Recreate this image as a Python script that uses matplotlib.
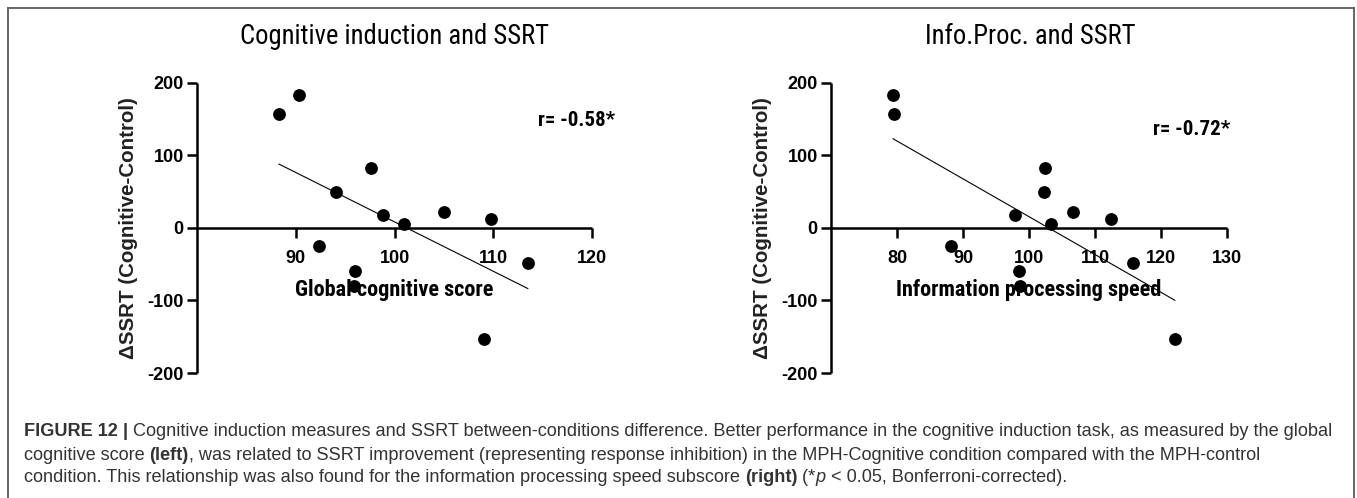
import numpy as np
import matplotlib
matplotlib.use("Agg")
import matplotlib.pyplot as plt
from matplotlib import font_manager
from matplotlib.lines import Line2D

# ---- data -------------------------------------------------------------
global_score = [88.3, 90.3, 92.4, 94.1, 96.0, 95.9, 97.6, 98.8, 101.0, 105.0, 109.8, 109.1, 113.5]
info_speed = [79.6, 79.4, 88.2, 102.2, 98.5, 98.6, 102.4, 97.9, 103.3, 106.7, 112.4, 122.1, 115.8]
delta_ssrt = [157, 184, -25, 50, -60, -80, 83, 18.5, 5, 22, 12.5, -153, -48]

left_xticks = [90, 100, 110, 120]
right_xticks = [80, 90, 100, 110, 120, 130]
yticks = [-200, -100, 0, 100, 200]

titles = ["Cognitive induction and SSRT", "Info.Proc. and SSRT"]
xlabels = ["Global cognitive score", "Information processing speed"]
r_labels = ["r= -0.58*", "r= -0.72*"]

plt.rcParams["axes.unicode_minus"] = False

# ---- fonts ------------------------------------------------------------
installed = {f.name for f in font_manager.fontManager.ttflist}
def pick(*names):
    for n in names:
        if n in installed:
            return n
    return "DejaVu Sans"

NARROW = pick("Liberation Sans Narrow", "Roboto Condensed", "Open Sans Condensed", "Liberation Sans")
SANS = pick("Liberation Sans", "Arial", "DejaVu Sans")

W, H, DPI = 1357, 498, 100
fig = plt.figure(figsize=(W / DPI, H / DPI), dpi=DPI)

def fx(px):
    return px / W

def fy(py):
    return 1 - py / H

# outer frame (open at the bottom)
frame = dict(color="#5a5a5a", lw=1.3, transform=fig.transFigure)
fig.add_artist(Line2D([fx(8), fx(1354)], [fy(8), fy(8)], **frame))
fig.add_artist(Line2D([fx(8), fx(8)], [fy(8), 0], **frame))
fig.add_artist(Line2D([fx(1354), fx(1354)], [fy(8), 0], **frame))

panels = [
    dict(x=global_score, xlim=(80, 120), xticks=left_xticks, px=(197, 592),
         title_x=394, r_pos=(114.5, 148), lab_x=129),
    dict(x=info_speed, xlim=(70, 130), xticks=right_xticks, px=(831, 1227),
         title_x=1030, r_pos=(118.8, 136), lab_x=763),
]

top_px, bot_px = 83, 373
for i, p in enumerate(panels):
    ax = fig.add_axes([fx(p["px"][0]), fy(bot_px), fx(p["px"][1] - p["px"][0]),
                       (bot_px - top_px) / H])
    ax.set_xlim(*p["xlim"])
    ax.set_ylim(-200, 200)
    ax.patch.set_alpha(0)

    for side in ("top", "right"):
        ax.spines[side].set_visible(False)
    ax.spines["bottom"].set_position(("data", 0))
    for side in ("left", "bottom"):
        ax.spines[side].set_linewidth(1.8)
        ax.spines[side].set_capstyle("butt")

    ax.set_yticks(yticks)
    ax.set_xticks(p["xticks"])
    ax.tick_params(axis="both", direction="out", length=7.5, width=1.8,
                   colors="black", labelsize=13)
    ax.tick_params(axis="x", pad=8)
    ax.tick_params(axis="y", pad=2)
    for lab in ax.get_xticklabels() + ax.get_yticklabels():
        lab.set_fontfamily(SANS)
        lab.set_fontweight("bold")

    xs = np.asarray(p["x"], float)
    ys = np.asarray(delta_ssrt, float)
    ax.scatter(xs, ys, s=85, color="black", zorder=3, linewidths=0)

    slope, icpt = np.polyfit(xs, ys, 1)
    xfit = np.array([xs.min(), xs.max()])
    ax.plot(xfit, slope * xfit + icpt, color="black", lw=0.8, zorder=2)

    ax.text(*p["r_pos"], r_labels[i], fontsize=15, fontweight="bold",
            family=NARROW, ha="left", va="center")
    ax.text(100, -86, xlabels[i], fontsize=16, fontweight="bold",
            family=NARROW, ha="center", va="center", zorder=1)

    fig.text(fx(p["title_x"]), fy(37), titles[i], fontsize=19.2, family=NARROW,
             ha="center", va="center")
    fig.text(fx(p["lab_x"]), fy(228), "\u0394SSRT (Cognitive-Control)", fontsize=14.8,
             fontweight="bold", family=SANS, color="#222222", rotation=90,
             ha="center", va="center")

# ---- caption ----------------------------------------------------------
caption = [
    [("FIGURE 12", "bold", "normal"), (" | ", "bold", "normal"),
     ("Cognitive induction measures and SSRT between-conditions difference. Better performance "
      "in the cognitive induction task, as measured by the global", "normal", "normal")],
    [("cognitive score ", "normal", "normal"), ("(left)", "bold", "normal"),
     (", was related to SSRT improvement (representing response inhibition) in the "
      "MPH-Cognitive condition compared with the MPH-control", "normal", "normal")],
    [("condition. This relationship was also found for the information processing speed subscore ",
      "normal", "normal"), ("(right)", "bold", "normal"), (" (*", "normal", "normal"),
     ("p", "normal", "italic"), (" < 0.05, Bonferroni-corrected).", "normal", "normal")],
]
cap_y = [431, 455, 478]
renderer = fig.canvas.get_renderer()
for line, ypx in zip(caption, cap_y):
    x = fx(24)
    for txt, weight, style in line:
        t = fig.text(x, fy(ypx), txt, fontsize=13.1, family=SANS, fontweight=weight,
                     fontstyle=style, color="#333333", ha="left", va="center")
        bb = t.get_window_extent(renderer=renderer)
        x += bb.width / W

fig.savefig("out.png", dpi=DPI)
